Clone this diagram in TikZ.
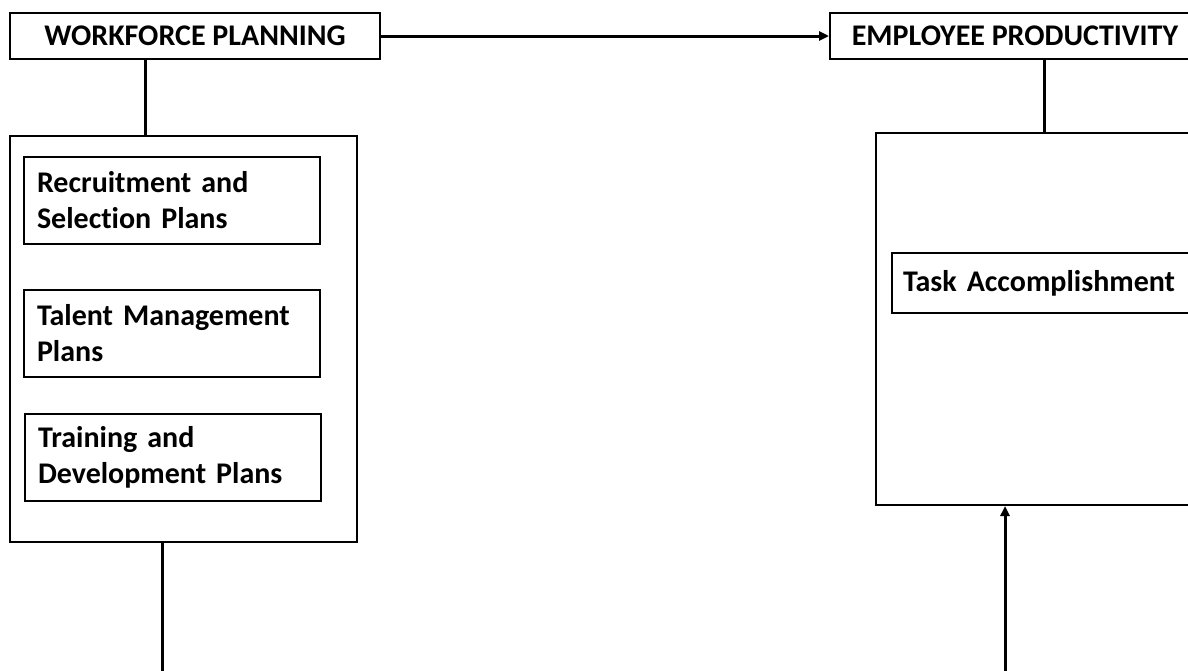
\documentclass[tikz,border=0pt]{standalone}
\usepackage{fontspec}
\setmainfont{Carlito}[Ligatures=NoCommon]
\usetikzlibrary{arrows.meta}
\begin{document}
\begin{tikzpicture}[x=1pt,y=-1pt,
  titlebox/.style={draw, line width=2pt, inner sep=0pt, font=\bfseries\fontsize{30}{36}\selectfont, minimum height=46pt},
  itembox/.style={draw, line width=2pt, inner sep=0pt, font=\bfseries\fontsize{30}{36}\selectfont, align=left},
  bigbox/.style={draw, line width=2pt, inner sep=0pt},
  conn/.style={line width=3pt},
  arr/.style={line width=3pt, -{Triangle[length=10pt,width=9pt]}}]
\useasboundingbox (0,0) rectangle (1188,670);
\clip (0,0) rectangle (1188,670);
\fill[white] (0,0) rectangle (1188,670);
% titles
\node[titlebox, minimum width=370pt] (wp) at (195,36) {WORKFORCE PLANNING};
\node[titlebox, minimum width=370pt] (ep) at (1015,36) {EMPLOYEE PRODUCTIVITY};
% big boxes
\node[bigbox, minimum width=347pt, minimum height=406pt] (lb) at (183.5,339) {};
\node[bigbox, minimum width=336pt, minimum height=372pt] (rb) at (1044,319) {};
% items
\node[itembox, minimum width=296pt, minimum height=87pt, text width=270pt] (i1) at (172,200.5) {Recruitment and\\Selection Plans};
\node[itembox, minimum width=296pt, minimum height=87pt, text width=270pt] (i2) at (172,333.5) {Talent Management\\Plans};
\node[itembox, minimum width=296pt, minimum height=87pt, text width=270pt] (i3) at (173,457.5) {Training and\\Development Plans};
\node[itembox, minimum width=310pt, minimum height=60pt, text width=288pt] (ta) at (1047,283) {Task Accomplishment};
% connectors
\coordinate (c1) at ([xshift=-50pt]wp.south);
\draw[conn] (c1) -- (c1 |- lb.north);
\coordinate (c2) at ([xshift=29pt]ep.south);
\draw[conn] (c2) -- (c2 |- rb.north);
\draw[arr] (wp.east) -- (ep.west);
\coordinate (c3) at (162,690);
\draw[conn] (c3 |- lb.south) -- (c3);
\coordinate (c4) at (1005,690);
\draw[arr] (c4) -- (c4 |- rb.south);
\end{tikzpicture}
\end{document}
